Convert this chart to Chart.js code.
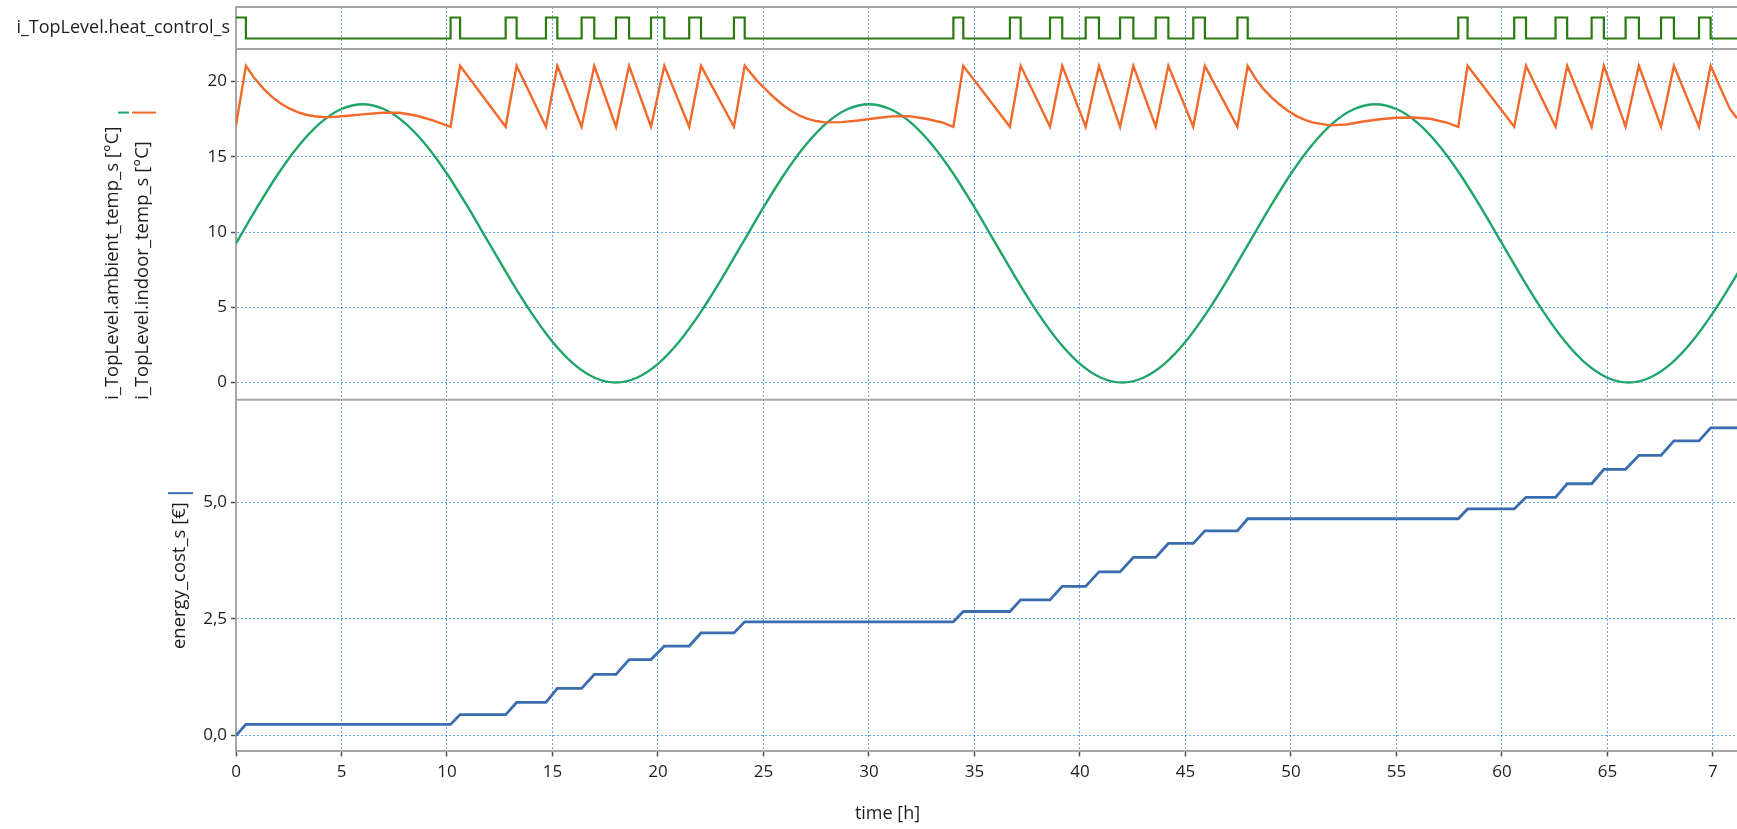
<!DOCTYPE html>
<html>
<head>
<meta charset="utf-8">
<title>i_TopLevel heating simulation</title>
<script src="https://cdn.jsdelivr.net/npm/chart.js@4.4.1/dist/chart.umd.min.js"></script>
<style>
    html, body { margin: 0; padding: 0; background: #ffffff; }
    #wrap { position: relative; width: 1737px; height: 829px; }
</style>
</head>
<body>
<div id="wrap"><canvas id="plot"></canvas></div>
<script>
// heat_control_s switching edges [h]
const pulseOn  = [0, 10.17, 12.78, 14.69, 16.38, 18.01, 19.67, 21.48, 23.60,
                  34.00, 36.68, 38.58, 40.27, 41.90, 43.59, 45.37, 47.46,
                  57.93, 60.58, 62.54, 64.25, 65.86, 67.54, 69.34];
const pulseOff = [0.47, 10.62, 13.30, 15.23, 16.98, 18.63, 20.30, 22.04, 24.11,
                  34.47, 37.19, 39.16, 40.90, 42.53, 44.19, 45.92, 47.95,
                  58.37, 61.14, 63.09, 64.83, 66.49, 68.15, 69.89];

// energy_cost_s level reached at the end of each pulse [€]
const costAfterPulse = [0.24, 0.45, 0.71, 1.01, 1.31, 1.63, 1.92, 2.20, 2.44,
                        2.66, 2.91, 3.20, 3.51, 3.82, 4.12, 4.39, 4.65,
                        4.86, 5.11, 5.40, 5.71, 6.01, 6.32, 6.60];

// ambient_temp_s, one sample per hour from t = 0 h [°C]
const ambientTemp = [
    9.25, 11.64, 13.88, 15.79, 17.26, 18.18, 18.5, 18.18, 17.26, 15.79, 13.88, 11.64,
    9.25, 6.86, 4.63, 2.71, 1.24, 0.32, 0.0, 0.32, 1.24, 2.71, 4.63, 6.86,
    9.25, 11.64, 13.88, 15.79, 17.26, 18.18, 18.5, 18.18, 17.26, 15.79, 13.88, 11.64,
    9.25, 6.86, 4.63, 2.71, 1.24, 0.32, 0.0, 0.32, 1.24, 2.71, 4.63, 6.86,
    9.25, 11.64, 13.88, 15.79, 17.26, 18.18, 18.5, 18.18, 17.26, 15.79, 13.88, 11.64,
    9.25, 6.86, 4.63, 2.71, 1.24, 0.32, 0.0, 0.32, 1.24, 2.71, 4.63, 6.86,
    9.25
];

// indoor_temp_s breakpoints [h] / [°C]
const indoorTime = [
    0, 0.47, 0.89, 1.32, 1.72, 2.12, 2.52, 2.92, 3.32, 3.72, 4.12, 4.52, 5.32, 6.12, 6.92, 7.73, 8.53, 9.33,
    10.17, 10.62, 12.78, 13.30, 14.69, 15.23, 16.38, 16.98, 18.01, 18.63, 19.67, 20.30, 21.48, 22.04, 23.60,
    24.11, 24.69, 25.09, 25.49, 25.89, 26.29, 26.69, 27.09, 27.49, 27.89, 28.69, 29.49, 30.29, 31.09, 31.90, 32.70, 33.50,
    34.00, 34.47, 36.68, 37.19, 38.58, 39.16, 40.27, 40.90, 41.90, 42.53, 43.59, 44.19, 45.37, 45.92, 47.46,
    47.95, 48.30, 48.69, 49.08, 49.48, 49.87, 50.27, 50.66, 51.06, 51.85, 52.64, 53.43, 54.22, 55.01, 55.80, 56.59, 57.38,
    57.93, 58.37, 60.58, 61.14, 62.54, 63.09, 64.25, 64.83, 65.86, 66.49, 67.54, 68.15, 69.34,
    69.89, 70.35, 70.80, 71.14
];
const indoorTemp = [
    17.1, 21.05, 20.2, 19.5, 18.97, 18.55, 18.22, 17.98, 17.8, 17.7, 17.65, 17.64, 17.73, 17.84, 17.93, 17.93, 17.75, 17.42,
    17.0, 21.05, 17.0, 21.05, 17.0, 21.05, 17.0, 21.05, 17.0, 21.05, 17.0, 21.05, 17.0, 21.05, 17.0,
    21.05, 20.07, 19.5, 18.96, 18.48, 18.08, 17.75, 17.53, 17.38, 17.29, 17.31, 17.42, 17.57, 17.69, 17.71, 17.53, 17.27,
    17.0, 21.05, 17.0, 21.05, 17.0, 21.05, 17.0, 21.05, 17.0, 21.05, 17.0, 21.05, 17.0, 21.05, 17.0,
    21.05, 20.25, 19.52, 18.95, 18.46, 18.05, 17.71, 17.46, 17.27, 17.09, 17.15, 17.35, 17.5, 17.6, 17.62, 17.53, 17.27,
    17.0, 21.05, 17.0, 21.05, 17.0, 21.05, 17.0, 21.05, 17.0, 21.05, 17.0, 21.05, 17.0,
    21.05, 19.6, 18.2, 17.57
];

// axis ticks and labels
const timeTicks = [0, 5, 10, 15, 20, 25, 30, 35, 40, 45, 50, 55, 60, 65, 70];
const timeTickLabels = ['0', '5', '10', '15', '20', '25', '30', '35', '40', '45', '50', '55', '60', '65', '7'];
const tempTicks = [0, 5, 10, 15, 20];
const costTicks = [0, 2.5, 5];
const costTickLabels = ['0,0', '2,5', '5,0'];

const heatLabel = 'i_TopLevel.heat_control_s';
const tempTitles = ['i_TopLevel.ambient_temp_s [°C]', 'i_TopLevel.indoor_temp_s [°C]'];
const costTitle = 'energy_cost_s [€]';
const timeTitle = 'time [h]';

const T_END = 71.14;
const TEXT = '#1e1e1e';
const FRAME = '#a6a6a6';
const GRID = 'rgba(40, 140, 255, 0.75)';
const TICK = '#505050';
const COL_HEAT = '#2b7a10';
const COL_AMB = '#1fa568';
const COL_IN = '#f2692a';
const COL_COST = '#3b6cb0';
const AXIS_W = 236;
const TITLE_FONT = 18.5;

// build the plotted series
const heatData = [];
pulseOn.forEach((t, i) => {
    heatData.push({x: t, y: 1}, {x: pulseOff[i], y: 0});
});
heatData.push({x: T_END, y: 0});

const costData = [{x: 0, y: 0}];
let level = 0;
pulseOn.forEach((t, i) => {
    costData.push({x: t, y: level});
    level = costAfterPulse[i];
    costData.push({x: pulseOff[i], y: level});
});
costData.push({x: T_END, y: level});

const ambientData = ambientTemp.map((v, i) => ({x: i, y: v}));
const indoorData = indoorTime.map((t, i) => ({x: t, y: indoorTemp[i]}));

function fixWidth(scale) {
    scale.width = AXIS_W;
    scale.paddingTop = 0;
    scale.paddingBottom = 0;
}

// panel separators and the small series keys beside the axis titles
const panelFrame = {
    id: 'panelFrame',
    beforeDatasetsDraw(chart) {
        const {ctx, chartArea, scales} = chart;
        ctx.save();
        ctx.strokeStyle = FRAME;
        ctx.lineWidth = 2;
        [scales.yHeat.top, scales.yTemp.top, scales.yCost.top].forEach(y => {
            ctx.beginPath();
            ctx.moveTo(chartArea.left, y);
            ctx.lineTo(chartArea.right, y);
            ctx.stroke();
        });
        ctx.restore();
    },
    afterDraw(chart) {
        const {ctx, scales} = chart;
        const t = scales.yTemp;
        const c = scales.yCost;
        ctx.save();
        ctx.font = TITLE_FONT + "px 'Open Sans'";
        ctx.lineWidth = 2;

        const longest = Math.max(...tempTitles.map(s => ctx.measureText(s).width));
        const ky = t.bottom - longest - 14;
        const cx1 = t.left + 113;
        const cx2 = cx1 + 30;
        ctx.strokeStyle = COL_AMB;
        ctx.beginPath(); ctx.moveTo(cx1 + 5, ky); ctx.lineTo(cx1 + 16, ky); ctx.stroke();
        ctx.strokeStyle = COL_IN;
        ctx.beginPath(); ctx.moveTo(cx2 - 11, ky); ctx.lineTo(cx2 + 13, ky); ctx.stroke();

        const w = ctx.measureText(costTitle).width;
        const cy = (c.top + c.bottom) / 2 - w / 2 - 9;
        const cx = c.left + 180;
        ctx.strokeStyle = COL_COST;
        ctx.beginPath(); ctx.moveTo(cx - 12, cy); ctx.lineTo(cx + 13, cy); ctx.stroke();
        ctx.restore();
    }
};

Chart.defaults.font.family = "'Open Sans', 'Noto Sans', sans-serif";
Chart.defaults.font.size = 17;
Chart.defaults.color = TEXT;

new Chart(document.getElementById('plot'), {
    type: 'line',
    data: {
        datasets: [
            {
                label: 'i_TopLevel.indoor_temp_s',
                data: indoorData,
                yAxisID: 'yTemp',
                borderColor: COL_IN,
                borderWidth: 2.4,
                tension: 0
            },
            {
                label: 'i_TopLevel.ambient_temp_s',
                data: ambientData,
                yAxisID: 'yTemp',
                borderColor: COL_AMB,
                borderWidth: 2.4,
                cubicInterpolationMode: 'monotone'
            },
            {
                label: heatLabel,
                data: heatData,
                yAxisID: 'yHeat',
                borderColor: COL_HEAT,
                borderWidth: 2.2,
                stepped: true
            },
            {
                label: 'energy_cost_s',
                data: costData,
                yAxisID: 'yCost',
                borderColor: COL_COST,
                borderWidth: 2.8,
                tension: 0
            }
        ]
    },
    options: {
        responsive: true,
        maintainAspectRatio: false,
        animation: false,
        elements: { point: { radius: 0 } },
        // negative right padding only widens the full-size title box, so "time [h]" sits where the original puts it
        layout: { padding: { left: 0, top: 7, right: -38, bottom: 0 } },
        plugins: {
            legend: { display: false },
            tooltip: { enabled: false },
            title: {
                display: true,
                text: timeTitle,
                position: 'bottom',
                align: 'center',
                color: TEXT,
                font: { size: 18, weight: 'normal', lineHeight: 1.2 },
                padding: { top: 3, bottom: 4 }
            }
        },
        scales: {
            x: {
                type: 'linear',
                min: 0,
                max: T_END,
                afterBuildTicks: s => { s.ticks = timeTicks.map(v => ({value: v})); },
                afterFit: s => { s.height = 49; s.paddingLeft = 0; s.paddingRight = 0; },
                ticks: {
                    callback: (v, i) => timeTickLabels[i],
                    padding: 6,
                    maxRotation: 0,
                    autoSkip: false,
                    color: TEXT
                },
                grid: { color: GRID, lineWidth: 1, tickLength: 5, tickColor: TICK, tickWidth: 1.5 },
                border: { color: FRAME, width: 2, dash: [2, 2] }
            },
            yCost: {
                type: 'linear',
                position: 'left',
                stack: 'panels',
                stackWeight: 351.7,
                weight: 1,
                min: -0.34,
                max: 7.2,
                afterBuildTicks: s => { s.ticks = costTicks.map(v => ({value: v})); },
                afterFit: fixWidth,
                ticks: { callback: (v, i) => costTickLabels[i], padding: 4, color: TEXT },
                grid: { color: GRID, lineWidth: 1, tickLength: 5, tickColor: TICK, tickWidth: 1.5 },
                border: { color: FRAME, width: 2, dash: [2, 2] },
                title: {
                    display: true,
                    text: costTitle,
                    align: 'center',
                    color: TEXT,
                    font: { size: TITLE_FONT, lineHeight: '20px' },
                    padding: { top: 170, bottom: 0 }
                }
            },
            yTemp: {
                type: 'linear',
                position: 'left',
                stack: 'panels',
                stackWeight: 351,
                weight: 2,
                min: -1.15,
                max: 22.17,
                afterBuildTicks: s => { s.ticks = tempTicks.map(v => ({value: v})); },
                afterFit: fixWidth,
                ticks: { padding: 4, color: TEXT },
                grid: { color: GRID, lineWidth: 1, tickLength: 5, tickColor: TICK, tickWidth: 1.5 },
                border: { color: FRAME, width: 2, dash: [2, 2] },
                title: {
                    display: true,
                    text: tempTitles,
                    align: 'start',
                    color: TEXT,
                    font: { size: TITLE_FONT, lineHeight: '30px' },
                    padding: { top: 98, bottom: 0 }
                }
            },
            yHeat: {
                type: 'linear',
                position: 'left',
                stack: 'panels',
                stackWeight: 42,
                weight: 3,
                min: -0.5,
                max: 1.5,
                afterBuildTicks: s => { s.ticks = [{value: 0.5}]; },
                afterFit: fixWidth,
                ticks: { callback: () => heatLabel, padding: 6, color: TEXT, font: { size: 18 } },
                grid: { display: false, drawTicks: false },
                border: { color: FRAME, width: 2 }
            }
        }
    },
    plugins: [panelFrame]
});
</script>
</body>
</html>
